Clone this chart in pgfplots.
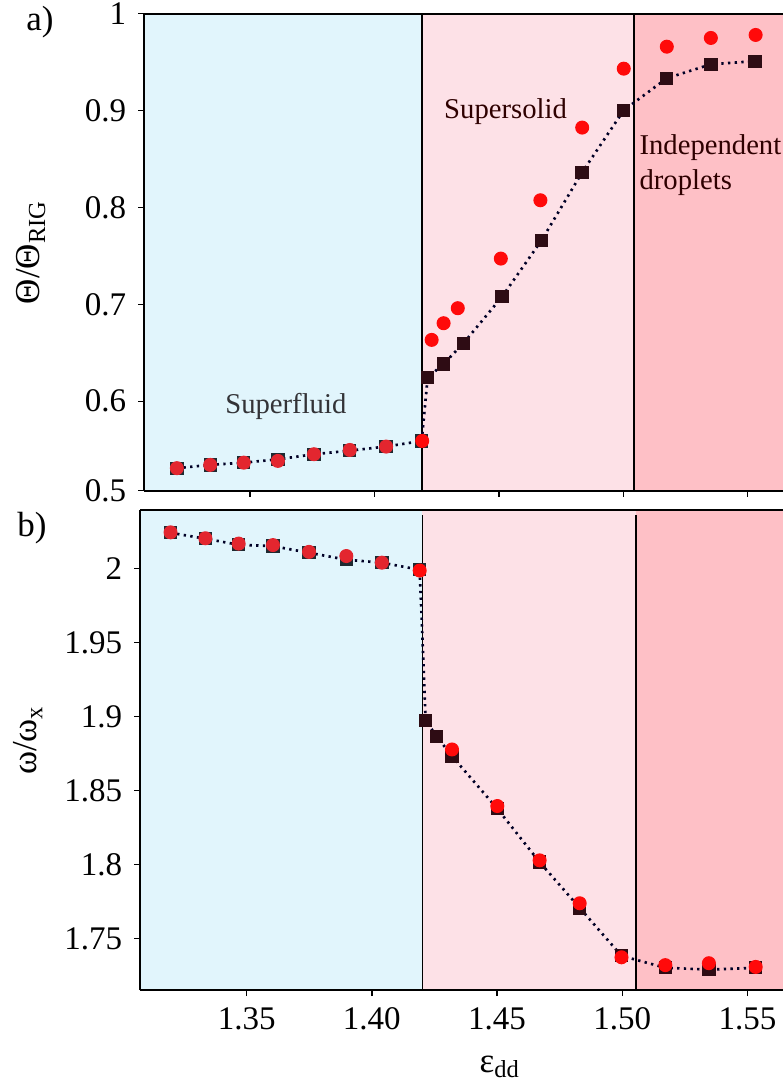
\documentclass[border=0pt]{standalone}
\usepackage{fontspec}
\setmainfont{Liberation Serif}
\usepackage{pgfplots}
\pgfplotsset{compat=1.18}

\definecolor{sfblue}{HTML}{E1F5FC}
\definecolor{sspink}{HTML}{FDE1E7}
\definecolor{idpink}{HTML}{FEC0C6}
\definecolor{redA}{HTML}{E3262F}
\definecolor{redB}{HTML}{FF0A0A}
\definecolor{sqteal}{HTML}{1E2A31}
\definecolor{sqdark}{HTML}{2E0C14}

\pgfplotsset{
  panel/.style={
    scale only axis,
    xmin=1.3074, xmax=1.5642,
    axis on top,
    axis x line=box, axis y line=left,
    x axis line style={-}, y axis line style={-},
    axis line style={line width=0.6pt, black},
    tick align=outside, major tick length=1.8pt,
    xtick pos=bottom, ytick pos=left,
    xtick={1.35,1.40,1.45,1.50,1.55},
    tick style={black, line width=0.4pt},
    tick label style={font=\fontsize{9.9}{12}\selectfont},
    /pgf/number format/assume math mode=true,
  },
  dotline/.style={color=black!85!blue, line width=0.8pt, dash pattern=on 0.7pt off 1.3pt, no marks},
  sq/.style={only marks, mark=square*, mark size=1.8pt, mark options={fill=#1, draw=#1}},
  dots/.style={only marks, mark=*, mark size=1.9pt, mark options={fill=#1, draw=#1}},
}

\begin{document}
\begin{tikzpicture}
\useasboundingbox (-42pt,-28.8pt) rectangle (192.9pt,297pt);

% a) angle ratio
\begin{axis}[panel, at={(1.2pt,149.8pt)}, anchor=south west,
    width=191.7pt, height=143.1pt,
    ymin=0.5077, ymax=1,
    ytick={0.5077,0.6,0.7,0.8,0.9,1},
    yticklabels={0.5,0.6,0.7,0.8,0.9,1},
    xticklabels={}]
  \fill[sfblue] (axis cs:1.3074,0.5077) rectangle (axis cs:1.4191,1);
  \fill[sspink] (axis cs:1.4191,0.5077) rectangle (axis cs:1.5043,1);
  \fill[idpink] (axis cs:1.5043,0.5077) rectangle (axis cs:1.5642,1);
  \draw[black, line width=0.4pt] (axis cs:1.4191,0.5077) -- (axis cs:1.4191,1);
  \draw[black, line width=0.4pt] (axis cs:1.5043,0.5077) -- (axis cs:1.5043,1);

  \addplot[dotline] coordinates {
    (1.3206,0.5309) (1.3340,0.5343) (1.3475,0.5366) (1.3612,0.5400)
    (1.3757,0.5453) (1.3901,0.5490) (1.4047,0.5532) (1.4190,0.5590)
    (1.4214,0.6244) (1.4278,0.6385) (1.4358,0.6599) (1.4513,0.7079)
    (1.4672,0.7662) (1.4834,0.8359) (1.5002,0.9003) (1.5175,0.9333)
    (1.5353,0.9478) (1.5529,0.9509)
  };
  \addplot[sq=sqteal] coordinates {
    (1.3206,0.5309) (1.3340,0.5343) (1.3475,0.5366) (1.3612,0.5400)
    (1.3757,0.5453) (1.3901,0.5490) (1.4047,0.5532) (1.4190,0.5590)
  };
  \addplot[sq=sqdark] coordinates {
    (1.4214,0.6244) (1.4278,0.6385) (1.4358,0.6599) (1.4513,0.7079)
    (1.4672,0.7662) (1.4834,0.8359) (1.5002,0.9003) (1.5175,0.9333)
    (1.5353,0.9478) (1.5529,0.9509)
  };
  \addplot[dots=redA] coordinates {
    (1.3206,0.5309) (1.3340,0.5343) (1.3475,0.5366) (1.3612,0.5384)
    (1.3757,0.5453) (1.3901,0.5497) (1.4047,0.5532)
  };
  \addplot[dots=redB] coordinates {
    (1.4192,0.5590)
    (1.4230,0.6633) (1.4278,0.6805) (1.4335,0.6960) (1.4508,0.7472)
    (1.4667,0.8074) (1.4835,0.8824) (1.5002,0.9432) (1.5175,0.9659)
    (1.5352,0.9749) (1.5532,0.9780)
  };

  \node[text=black!75!cyan!40!black, font=\fontsize{8.6}{10.5}\selectfont]
    at (axis cs:1.3644,0.5941) {Superfluid};
  \node[text=black!70!red!60!black, font=\fontsize{8.6}{10.5}\selectfont]
    at (axis cs:1.4527,0.8986) {Supersolid};
  \node[text=black!70!red!60!black, font=\fontsize{8.6}{10.5}\selectfont,
    align=left, anchor=west, inner sep=0pt]
    at (axis cs:1.5063,0.8439) {Independent\\droplets};
\end{axis}

% b) frequency ratio
\begin{axis}[panel, at={(0pt,0pt)}, anchor=south west,
    width=192.9pt, height=144pt,
    ymin=1.7151, ymax=2.0394,
    ytick={1.75,1.8,1.85,1.9,1.95,2},
    xticklabel style={/pgf/number format/.cd, fixed, fixed zerofill, precision=2},
    yticklabel style={/pgf/number format/.cd, fixed, precision=2}]
  \fill[sfblue] (axis cs:1.3074,1.7151) rectangle (axis cs:1.4201,2.0394);
  \fill[sspink] (axis cs:1.4201,1.7151) rectangle (axis cs:1.5055,2.0394);
  \fill[idpink] (axis cs:1.5055,1.7151) rectangle (axis cs:1.5642,2.0394);
  \draw[black, line width=0.4pt] (axis cs:1.4201,1.7151) -- (axis cs:1.4201,2.036);
  \draw[black, line width=0.4pt] (axis cs:1.5055,1.7151) -- (axis cs:1.5055,2.036);

  \addplot[dotline] coordinates {
    (1.3196,2.0240) (1.3335,2.0200) (1.3468,2.0159) (1.3605,2.0150)
    (1.3749,2.0105) (1.3898,2.0058) (1.4040,2.0038) (1.4191,1.9990)
    (1.4215,1.8970) (1.4259,1.8864) (1.4320,1.8731) (1.4501,1.8376)
    (1.4670,1.8015) (1.4830,1.7706) (1.4997,1.7382) (1.5172,1.7301)
    (1.5346,1.7289) (1.5533,1.7301)
  };
  \addplot[sq=sqteal] coordinates {
    (1.3196,2.0240) (1.3335,2.0200) (1.3468,2.0159) (1.3605,2.0150)
    (1.3749,2.0105) (1.3898,2.0058) (1.4040,2.0038) (1.4191,1.9990)
  };
  \addplot[sq=sqdark] coordinates {
    (1.4215,1.8970) (1.4259,1.8864) (1.4320,1.8731) (1.4501,1.8376)
    (1.4670,1.8015) (1.4830,1.7706) (1.4997,1.7382) (1.5172,1.7301)
    (1.5346,1.7289) (1.5533,1.7301)
  };
  \addplot[dots=redA] coordinates {
    (1.3196,2.0243) (1.3335,2.0203) (1.3468,2.0167) (1.3605,2.0157)
    (1.3749,2.0111) (1.3898,2.0083) (1.4040,2.0038)
  };
  \addplot[dots=redB] coordinates {
    (1.4191,1.9985)
    (1.4320,1.8776) (1.4501,1.8394) (1.4670,1.8027) (1.4830,1.7737)
    (1.4997,1.7372) (1.5172,1.7319) (1.5346,1.7332) (1.5533,1.7307)
  };
\end{axis}

\node[rotate=90, font=\fontsize{10.5}{12}\selectfont] at (-32.7pt,221.4pt) {Θ/Θ\textsubscript{RIG}};
\node[rotate=90, font=\fontsize{10.5}{12}\selectfont] at (-33.6pt,75pt) {ω/ω\textsubscript{x}};
\node[font=\fontsize{10.5}{12}\selectfont] at (108pt,-23.1pt) {ε\textsubscript{dd}};
\node[font=\fontsize{10.5}{12}\selectfont] at (-30pt,290.4pt) {a)};
\node[font=\fontsize{10.5}{12}\selectfont] at (-32.4pt,138.6pt) {b)};
\end{tikzpicture}
\end{document}
